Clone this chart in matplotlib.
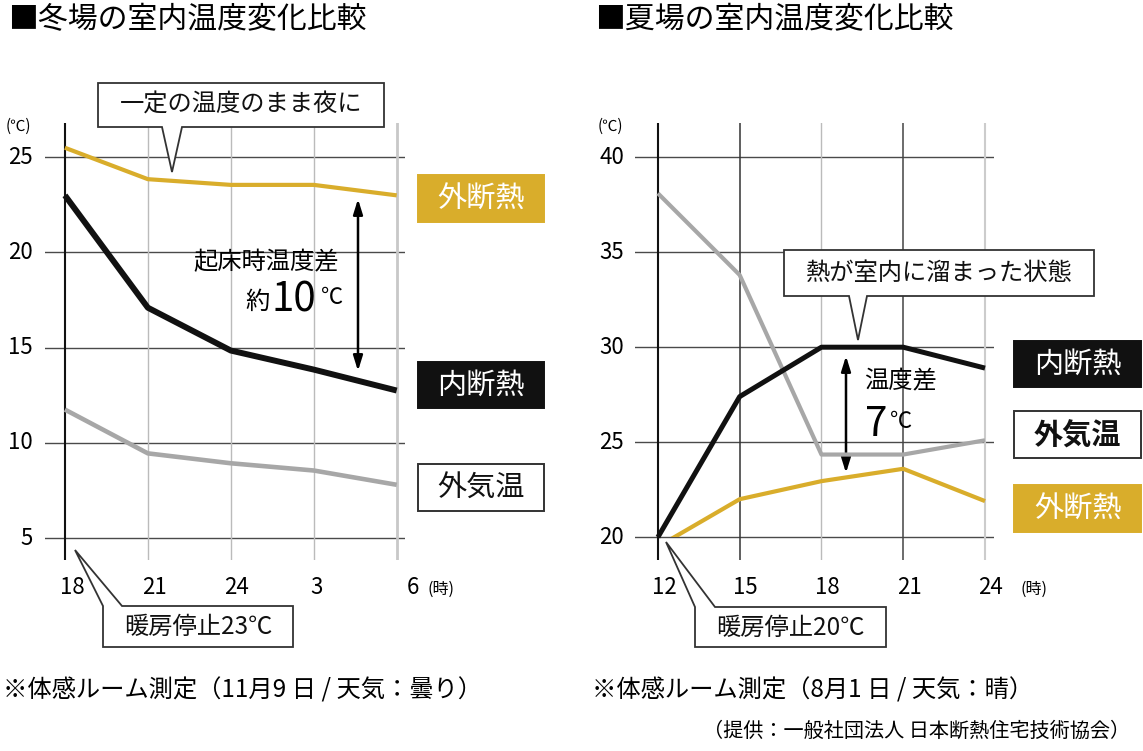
import matplotlib
matplotlib.use("Agg")
import matplotlib.pyplot as plt
import matplotlib.transforms as mtransforms
from matplotlib.patches import Rectangle, Polygon

plt.rcParams['font.family'] = ['Noto Sans CJK JP', 'DejaVu Sans']

# ---------------- data ----------------
winter_hours = ["18", "21", "24", "3", "6"]
winter_outer_ins = [25.5, 23.85, 23.55, 23.55, 23.0]   # 外断熱
winter_inner_ins = [23.0, 17.1, 14.85, 13.85, 12.75]   # 内断熱
winter_outside = [11.75, 9.45, 8.93, 8.55, 7.8]        # 外気温
winter_yticks = [5, 10, 15, 20, 25]

summer_hours = ["12", "15", "18", "21", "24"]
summer_inner_ins = [20.0, 27.4, 30.0, 30.0, 28.9]      # 内断熱
summer_outside = [38.1, 33.8, 24.35, 24.35, 25.1]      # 外気温
summer_outer_ins = [19.5, 22.0, 22.95, 23.6, 21.9]     # 外断熱
summer_yticks = [20, 25, 30, 35, 40]

GOLD = '#D9AD2B'
GRAY = '#A7A7A7'
BLACK = '#111111'

W, H = 1143, 751
fig = plt.figure(figsize=(W / 100, H / 100), dpi=100)
px = mtransforms.Affine2D().scale(1 / W, -1 / H).translate(0, 1) + fig.transFigure


def fx(x):
    return x / W


def fy(y):
    return 1 - y / H


def make_axes(left, right, top, bottom, xlim, ylim):
    ax = fig.add_axes([fx(left), fy(bottom), fx(right) - fx(left), fy(top) - fy(bottom)])
    ax.set_xlim(*xlim)
    ax.set_ylim(*ylim)
    ax.axis('off')
    return ax


def box_label(x0, x1, y0, y1, text, fc, tc, ec=None, bold=False, size=21):
    fig.patches.append(Rectangle((x0, y0), x1 - x0, y1 - y0, transform=px,
                                 facecolor=fc, edgecolor=ec if ec else fc,
                                 linewidth=1.4))
    fig.text((x0 + x1) / 2, (y0 + y1) / 2 + 1, text, transform=px, ha='center',
             va='center', color=tc, fontsize=size,
             fontweight='bold' if bold else 'normal')


def callout(points, text, tx, ty, size=17.5):
    fig.patches.append(Polygon(points, closed=True, transform=px, facecolor='white',
                               edgecolor='#333333', linewidth=1.3, zorder=5))
    fig.text(tx, ty, text, transform=px, ha='center', va='center', fontsize=size,
             color='#111111', zorder=6)


# ================= Winter panel =================
axw = make_axes(45, 405, 123, 560, (-0.24, 4.1), (3.85, 26.8))
xw = list(range(len(winter_hours)))
for y in winter_yticks:
    axw.axhline(y, color='#4a4a4a', lw=1.0, zorder=1)
vcols = ['#111111', '#BBBBBB', '#BBBBBB', '#BBBBBB', '#C8C8C8']
vlws = [1.5, 1.0, 1.0, 1.0, 2.0]
for x, c, lw in zip(xw, vcols, vlws):
    axw.axvline(x, color=c, lw=lw, zorder=1)
axw.plot(xw, winter_outside, color=GRAY, lw=3.3, zorder=3, solid_capstyle='butt')
axw.plot(xw, winter_inner_ins, color=BLACK, lw=4.3, zorder=4, solid_capstyle='butt')
axw.plot(xw, winter_outer_ins, color=GOLD, lw=3.0, zorder=5, solid_capstyle='butt')

bx = mtransforms.blended_transform_factory(axw.transData, px)
by = mtransforms.blended_transform_factory(px, axw.transData)
xoffs = [7, 7, 6, 3, 16]
for x, lab, o in zip(xw, winter_hours, xoffs):
    axw.text(x, 587, lab, transform=bx + mtransforms.ScaledTranslation(o / 100, 0, fig.dpi_scale_trans),
             ha='center', va='center', fontsize=16, clip_on=False)
fig.text(441, 589, '(時)', transform=px, ha='center', va='center', fontsize=11.5)
for y in winter_yticks:
    axw.text(33, y, str(y), transform=by, ha='right', va='center', fontsize=16, clip_on=False)
fig.text(18, 126, '(℃)', transform=px, ha='center', va='center', fontsize=11)

fig.text(8, 20, '■冬場の室内温度変化比較', transform=px, ha='left', va='center', fontsize=21.5)

callout([(98, 83), (384, 83), (384, 127), (182, 127), (172, 172), (162, 127), (98, 127)],
        '一定の温度のまま夜に', 241, 105)
callout([(75, 550), (122, 606), (293, 606), (293, 647), (103, 647), (103, 606)],
        '暖房停止23℃', 198, 627)

fig.text(339, 262, '起床時温度差', transform=px, ha='right', va='center', fontsize=17.5)
fig.text(258, 302, '約', transform=px, ha='center', va='center', fontsize=17.5)
fig.text(294, 300, '10', transform=px, ha='center', va='center', fontsize=29)
fig.text(332, 298, '℃', transform=px, ha='center', va='center', fontsize=16)

axw.annotate('', xy=(358, 199), xytext=(358, 371), xycoords=px, textcoords=px,
             arrowprops=dict(arrowstyle='<|-|>,head_length=0.9,head_width=0.28',
                             color='black', lw=1.8, shrinkA=0, shrinkB=0))

box_label(418, 544, 175, 222, '外断熱', GOLD, 'white')
box_label(418, 544, 362, 408, '内断熱', BLACK, 'white')
box_label(418, 544, 464, 511, '外気温', 'white', '#111111', ec='#333333')

fig.text(3, 691, '※体感ルーム測定（11月9 日 / 天気：曇り）', transform=px, ha='left',
         va='center', fontsize=17.5)

# ================= Summer panel =================
axs = make_axes(635, 994, 123, 560, (-0.28, 4.11), (18.8, 41.8))
xs = list(range(len(summer_hours)))
for y in summer_yticks:
    axs.axhline(y, color='#4a4a4a', lw=1.0, zorder=1)
vcols = ['#111111', '#333333', '#BBBBBB', '#444444', '#CCCCCC']
vlws = [1.5, 1.1, 1.0, 1.1, 1.5]
for x, c, lw in zip(xs, vcols, vlws):
    axs.axvline(x, color=c, lw=lw, zorder=1)
clip = Rectangle((-1, 20), 10, 30, transform=axs.transData)
l_gold, = axs.plot(xs, summer_outer_ins, color=GOLD, lw=3.0, zorder=3, solid_capstyle='butt')
l_gold.set_clip_path(clip)
axs.plot(xs, summer_outside, color=GRAY, lw=3.0, zorder=4, solid_capstyle='butt')
axs.plot(xs, summer_inner_ins, color=BLACK, lw=3.6, zorder=5, solid_capstyle='butt')

bx2 = mtransforms.blended_transform_factory(axs.transData, px)
by2 = mtransforms.blended_transform_factory(px, axs.transData)
for x, lab in zip(xs, summer_hours):
    axs.text(x, 587, lab, transform=bx2 + mtransforms.ScaledTranslation(6 / 100, 0, fig.dpi_scale_trans),
             ha='center', va='center', fontsize=16, clip_on=False)
fig.text(1034, 589, '(時)', transform=px, ha='center', va='center', fontsize=11.5)
for y in summer_yticks:
    axs.text(624, y, str(y), transform=by2, ha='right', va='center', fontsize=16, clip_on=False)
fig.text(610, 126, '(℃)', transform=px, ha='center', va='center', fontsize=11)

fig.text(595, 20, '■夏場の室内温度変化比較', transform=px, ha='left', va='center', fontsize=21.5)

callout([(784, 250), (1094, 250), (1094, 296), (867, 296), (858, 340), (849, 296), (784, 296)],
        '熱が室内に溜まった状態', 939, 273)
callout([(666, 542), (715, 607), (886, 607), (886, 647), (695, 647), (695, 607)],
        '暖房停止20℃', 790, 628)

fig.text(864, 381, '温度差', transform=px, ha='left', va='center', fontsize=17.5)
fig.text(876, 424, '7', transform=px, ha='center', va='center', fontsize=29)
fig.text(901, 421, '℃', transform=px, ha='center', va='center', fontsize=16)

axs.annotate('', xy=(846, 356), xytext=(846, 473), xycoords=px, textcoords=px,
             arrowprops=dict(arrowstyle='<|-|>,head_length=0.9,head_width=0.28',
                             color='black', lw=1.8, shrinkA=0, shrinkB=0))

box_label(1014, 1141, 341, 387, '内断熱', BLACK, 'white')
box_label(1014, 1141, 411, 458, '外気温', 'white', '#111111', ec='#333333', bold=True)
box_label(1014, 1141, 485, 532, '外断熱', GOLD, 'white')

fig.text(592, 690, '※体感ルーム測定（8月1 日 / 天気：晴）', transform=px, ha='left',
         va='center', fontsize=17.5)
fig.text(1130, 731, '（提供：一般社団法人 日本断熱住宅技術協会）', transform=px, ha='right',
         va='center', fontsize=14.5)

fig.savefig('out.png', dpi=100, facecolor='white')
